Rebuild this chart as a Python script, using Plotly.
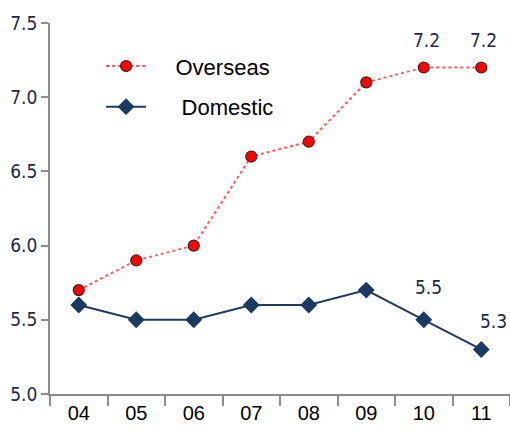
import plotly.graph_objects as go

years = ["04", "05", "06", "07", "08", "09", "10", "11"]
overseas = [5.7, 5.9, 6.0, 6.6, 6.7, 7.1, 7.2, 7.2]
domestic = [5.6, 5.5, 5.5, 5.6, 5.6, 5.7, 5.5, 5.3]
y_ticks = [5.0, 5.5, 6.0, 6.5, 7.0, 7.5]

# value labels shown on selected points: (series, index, x shift, y shift)
callouts = [(overseas, 6, 3, 28), (overseas, 7, 2, 28),
            (domestic, 6, 5, 33), (domestic, 7, 12, 28)]

label_font = dict(family="DejaVu Sans Condensed", size=19, color="#1c2a48")
pad = "\u00a0" * 4

fig = go.Figure()
fig.add_trace(go.Scatter(
    x=years, y=overseas, name=pad + "Overseas", mode="lines+markers",
    line=dict(color="#ff5a5a", width=2, dash="dot"),
    marker=dict(symbol="circle", size=11, color="#ff0000",
                line=dict(color="#5a1616", width=1.2)),
    legendgroup="a",
))
fig.add_trace(go.Scatter(
    x=years, y=domestic, name=pad + "\u00a0Domestic", mode="lines+markers",
    line=dict(color="#1f3a60", width=2),
    marker=dict(symbol="diamond", size=13, color="#1b3a63"),
    legendgroup="b",
))

for series, i, dx, dy in callouts:
    fig.add_annotation(x=i, y=series[i], xref="x", yref="y",
                       text=f"{series[i]:.1f}",
                       showarrow=False, xshift=dx, yshift=dy, font=label_font)

axis_color = "#8c8c8c"
fig.update_layout(
    width=510, height=432,
    margin=dict(l=50, r=0, t=23, b=38),
    plot_bgcolor="white", paper_bgcolor="white",
    showlegend=True,
    legend=dict(x=0.111, y=0.94, xanchor="left", yanchor="top",
                font=dict(family="Liberation Sans", size=22, color="black"),
                bgcolor="rgba(0,0,0,0)", tracegroupgap=9,
                itemwidth=40),
    xaxis=dict(type="category", range=[-0.5, 7.5], tickson="boundaries",
               ticks="outside", ticklen=10, tickcolor=axis_color, tickwidth=1.5,
               showline=True, linecolor=axis_color, linewidth=1.5,
               showgrid=False, zeroline=False,
               tickfont=dict(family="Liberation Sans", size=20, color="black")),
    yaxis=dict(range=[5.0, 7.5], tickvals=y_ticks,
               ticktext=[f"{v:.1f}" for v in y_ticks],
               ticks="outside", ticklen=7, tickcolor=axis_color, tickwidth=1.5,
               showline=True, linecolor=axis_color, linewidth=1.5,
               showgrid=False, zeroline=False,
               tickfont=label_font),
)

fig.write_html("out.html")
